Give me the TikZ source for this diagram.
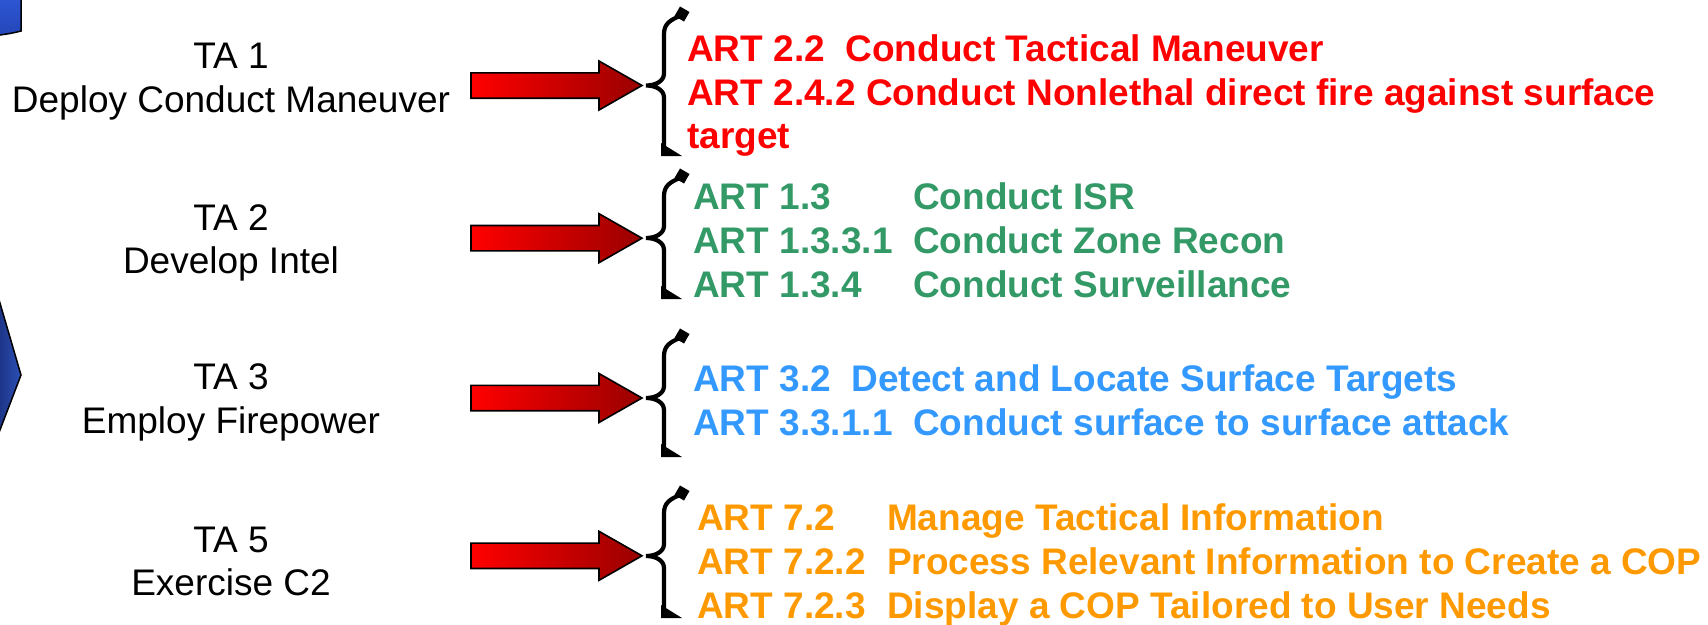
\documentclass[tikz,border=0pt]{standalone}
\usepackage{fontspec}
\setmainfont{Liberation Sans}
\definecolor{artred}{HTML}{FF0000}
\definecolor{artgreen}{HTML}{339966}
\definecolor{artblue}{HTML}{3399FF}
\definecolor{artorange}{HTML}{FF9900}
\definecolor{arrowlight}{HTML}{FF0000}
\definecolor{arrowdark}{HTML}{990000}
\definecolor{navydark}{HTML}{19307F}
\definecolor{navylight}{HTML}{2D4FB4}
\definecolor{panelblue}{HTML}{2F58D6}
\definecolor{panelblue2}{HTML}{2446B8}
\begin{document}
\begin{tikzpicture}[x=1pt,y=-1pt,
  talabel/.style={font=\fontsize{37pt}{44pt}\selectfont, anchor=base, inner sep=0pt},
  artline/.style={font=\bfseries\fontsize{37pt}{44pt}\selectfont, anchor=base west, inner sep=0pt},
  blockarrow/.style={left color=arrowlight, right color=arrowdark, draw=black, line width=1.6pt, line join=miter},
  bracepath/.style={draw=black, line width=4.2pt},
  braceend/.style={fill=black}]
\useasboundingbox (0,0) rectangle (1708,624);
\clip (0,0) rectangle (1708,624);

% partial shapes at the left margin
\shadedraw[top color=panelblue, bottom color=panelblue2, draw=black, line width=1.5pt]
  (-5,-5) -- (21,-5) -- (21,31) .. controls (14,33) and (7,34) .. (0,35) -- (-5,35) -- cycle;
\shadedraw[left color=navydark, right color=navylight, draw=black, line width=1.5pt]
  (-5,286) -- (21,375) -- (-5,443) -- cycle;

% task labels
\node[talabel] (ta1)  at (231,68)  {TA 1};
\node[talabel] (ta1b) at (231,112) {Deploy Conduct Maneuver};
\node[talabel] (ta2)  at (231,230) {TA 2};
\node[talabel] (ta2b) at (231,273) {Develop Intel};
\node[talabel] (ta3)  at (231,389) {TA 3};
\node[talabel] (ta3b) at (231,433) {Employ Firepower};
\node[talabel] (ta5)  at (231,552) {TA 5};
\node[talabel] (ta5b) at (231,595) {Exercise C2};

% block arrows
\foreach \yc in {85.5,238.2,398,555.8} {
  \shadedraw[blockarrow] (471,\yc-12.7) -- (599,\yc-12.7) -- (599,\yc-24.5) -- (642,\yc)
    -- (599,\yc+24.5) -- (599,\yc+12.7) -- (471,\yc+12.7) -- cycle;
}

% braces: top end, middle nub, bottom end
\foreach \T/\M/\B in {13/85.5/156, 175/238/299, 335/398/457, 492/556/618} {
  \draw[bracepath] (680,\T+3) .. controls (670,\T+7) and (664,\T+11) .. (664,\T+21)
    -- (664,\M-12) .. controls (664,\M-4) and (655,\M) .. (646,\M)
    .. controls (655,\M) and (664,\M+4) .. (664,\M+12) -- (664,\B-6);
  \fill[braceend, rotate around={-30:(682,\T+1)}] (676.5,\T-4.5) rectangle (687.5,\T+6.5);
  \fill[braceend] (661,\B-13) -- (661,\B) -- (682,\B) -- cycle;
}

% ART task lists
\node[artline, text=artred] (r1) at (687,61.5)  {ART 2.2\ \ Conduct Tactical Maneuver};
\node[artline, text=artred] (r2) at (687,105)   {ART 2.4.2 Conduct Nonlethal direct fire against surface};
\node[artline, text=artred] (r3) at (687,148.5) {target};

\node[artline, text=artgreen] (g1) at (693,209) {\makebox[220pt][l]{ART 1.3}Conduct ISR};
\node[artline, text=artgreen] (g2) at (693,253) {\makebox[220pt][l]{ART 1.3.3.1}Conduct Zone Recon};
\node[artline, text=artgreen] (g3) at (693,297) {\makebox[220pt][l]{ART 1.3.4}Conduct Surveillance};

\node[artline, text=artblue] (b1) at (693,391) {ART 3.2\ \ Detect and Locate Surface Targets};
\node[artline, text=artblue] (b2) at (693,435) {ART 3.3.1.1\ \ Conduct surface to surface attack};

\node[artline, text=artorange] (o1) at (697,530) {\makebox[190pt][l]{ART 7.2}Manage Tactical Information};
\node[artline, text=artorange] (o2) at (697,574) {\makebox[190pt][l]{ART 7.2.2}Process Relevant Information to Create a COP};
\node[artline, text=artorange] (o3) at (697,618.5) {\makebox[190pt][l]{ART 7.2.3}Display a COP Tailored to User Needs};
\end{tikzpicture}
\end{document}
